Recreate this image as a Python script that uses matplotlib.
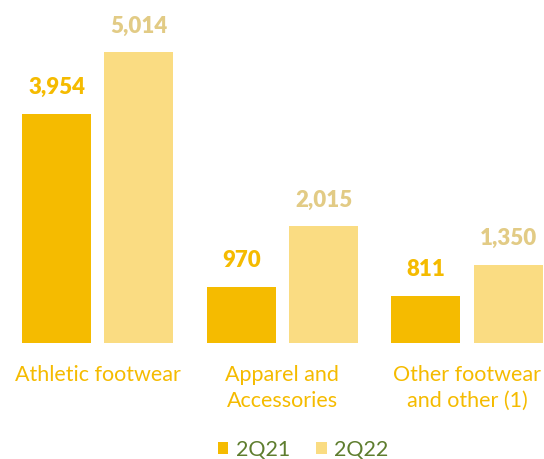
import matplotlib
matplotlib.use("Agg")
import matplotlib.pyplot as plt
import numpy as np

categories = ["Athletic footwear", "Apparel and\nAccessories", "Other footwear\nand other (1)"]
series_names = ["2Q21", "2Q22"]
values_2q21 = [3954, 970, 811]
values_2q22 = [5014, 2015, 1350]

c1 = "#F5BB00"
c2 = "#FADC82"
c2_text = "#E2CB85"
legend_color = "#5E7D2E"

plt.rcParams['font.family'] = ['Lato', 'DejaVu Sans']

fig = plt.figure(figsize=(5.44, 4.59), dpi=100)
ax = fig.add_axes([0, 116/459, 1, 343/459])
x = np.arange(len(categories))
w = 0.373
off = 0.223
b1 = ax.bar(x - off, values_2q21, w, color=c1)
b2 = ax.bar(x + off, values_2q22, w, color=c2)
ax.set_xlim(-0.5294, 2.417)
ax.set_ylim(0, 5917)
ax.axis('off')

for xi, v in zip(x, values_2q21):
    ax.annotate(f"{v:,}", (xi - off, v), xytext=(0, 26), textcoords='offset pixels',
                ha='center', va='center', fontsize=16, fontweight='heavy', color=c1)
for xi, v in zip(x, values_2q22):
    ax.annotate(f"{v:,}", (xi + off, v), xytext=(0, 26), textcoords='offset pixels',
                ha='center', va='center', fontsize=16, fontweight='heavy', color=c2_text)

for xi, c in zip(x, categories):
    ax.annotate(c, (xi, 0), xytext=(0, -22), textcoords='offset pixels',
                ha='center', va='top', fontsize=15.5, color=c1, linespacing=1.35)

# legend
leg = fig.legend([b1, b2], series_names, loc='center', bbox_to_anchor=(0.557, 9/459),
                 ncol=2, frameon=False, fontsize=15.5, handlelength=0.5, handleheight=0.5,
                 handletextpad=0.35, columnspacing=1.2)
for t in leg.get_texts():
    t.set_color(legend_color)

fig.savefig("out.png", dpi=100)
